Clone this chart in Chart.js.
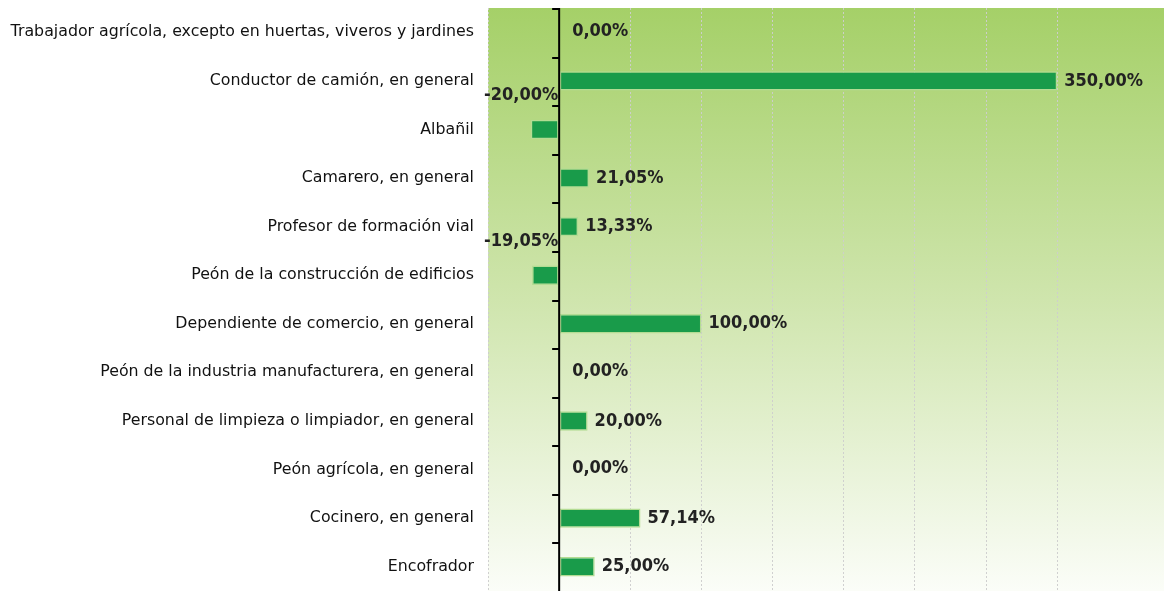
<!DOCTYPE html>
<html>
<head>
<meta charset="utf-8">
<script src="https://cdn.jsdelivr.net/npm/chart.js@4"></script>
<style>
  html, body { margin: 0; padding: 0; background: #fff; }
  #wrap { width: 1164px; height: 591px; }
</style>
</head>
<body>
<div id="wrap"><canvas id="ocupaciones"></canvas></div>
<script>
// Variación por ocupación (%)
const ocupaciones = [
    'Trabajador agrícola, excepto en huertas, viveros y jardines',
    'Conductor de camión, en general',
    'Albañil',
    'Camarero, en general',
    'Profesor de formación vial',
    'Peón de la construcción de edificios',
    'Dependiente de comercio, en general',
    'Peón de la industria manufacturera, en general',
    'Personal de limpieza o limpiador, en general',
    'Peón agrícola, en general',
    'Cocinero, en general',
    'Encofrador'
];
const variacion = [0, 350, -20, 21.05, 13.33, -19.05, 100, 0, 20, 0, 57.14, 25];

const ejeMin = -50;
const ejeMax = 425;
const paso = 50;

const fmt = v => v.toFixed(2).replace('.', ',') + '%';

// fondo degradado, eje vertical en 0 y marcas entre categorías
const fondo = {
    id: 'fondo',
    beforeDraw(chart) {
        const { ctx, chartArea: a } = chart;
        const g = ctx.createLinearGradient(0, a.top, 0, a.bottom);
        g.addColorStop(0, '#a5d068');
        g.addColorStop(0.5, '#cfe5ad');
        g.addColorStop(1, '#fbfdf8');
        ctx.save();
        ctx.fillStyle = g;
        ctx.fillRect(a.left, a.top, chart.width - a.left, a.bottom - a.top);
        ctx.restore();
    },
    afterDatasetsDraw(chart) {
        const { ctx, chartArea: a, scales } = chart;
        const x0 = scales.x.getPixelForValue(0);
        const n = ocupaciones.length;
        const alto = (a.bottom - a.top) / n;
        ctx.save();
        ctx.strokeStyle = '#000';
        ctx.lineWidth = 2;
        ctx.beginPath();
        ctx.moveTo(x0, a.top);
        ctx.lineTo(x0, a.bottom);
        for (let i = 0; i < n; i++) {
            const y = Math.round(a.top + i * alto) + 1;
            ctx.moveTo(x0 - 7, y);
            ctx.lineTo(x0, y);
        }
        ctx.stroke();

        // etiquetas de valor
        ctx.font = 'bold 18px "DejaVu Sans Condensed", "DejaVu Sans", sans-serif';
        ctx.fillStyle = '#222';
        ctx.textBaseline = 'middle';
        const meta = chart.getDatasetMeta(0);
        meta.data.forEach((bar, i) => {
            const v = variacion[i];
            const y = bar.y;
            if (v > 0) {
                ctx.textAlign = 'left';
                ctx.fillText(fmt(v), bar.x + 7, y);
            } else if (v < 0) {
                ctx.textAlign = 'right';
                ctx.fillText(fmt(v), x0 - 1, y - 34);
            } else {
                ctx.textAlign = 'left';
                ctx.fillText(fmt(v), x0 + 13, y - 1);
            }
        });
        ctx.restore();
    }
};

new Chart(document.getElementById('ocupaciones'), {
    type: 'bar',
    data: {
        labels: ocupaciones,
        datasets: [{
            data: variacion,
            backgroundColor: '#199b4a',
            borderColor: '#b3dc93',
            borderWidth: 1.5,
            borderSkipped: false,
            categoryPercentage: 1,
            barPercentage: 0.4
        }]
    },
    options: {
        indexAxis: 'y',
        responsive: true,
        maintainAspectRatio: false,
        animation: false,
        layout: { padding: { top: 8, right: 0, bottom: 0, left: 0 } },
        plugins: {
            legend: { display: false },
            tooltip: { enabled: false }
        },
        scales: {
            x: {
                min: ejeMin,
                max: ejeMax,
                ticks: { display: false, stepSize: paso },
                afterFit(scale) {
                    scale.height = 0;
                    scale.paddingLeft = 0;
                    scale.paddingRight = 0;
                },
                grid: {
                    drawTicks: false,
                    lineWidth: 1,
                    color: c => (c.tick.value === 0 || c.tick.value >= 400) ? 'rgba(0,0,0,0)' : 'rgba(205,205,205,0.95)'
                },
                border: { display: false, dash: [2, 2] }
            },
            y: {
                afterFit(scale) {
                    scale.width = 488;
                    scale.paddingTop = 0;
                    scale.paddingBottom = 0;
                },
                grid: { display: false, drawTicks: false },
                border: { display: false },
                ticks: {
                    padding: 14,
                    color: '#111',
                    font: { family: '"DejaVu Sans", sans-serif', size: 15.8 }
                }
            }
        }
    },
    plugins: [fondo]
});
</script>
</body>
</html>
